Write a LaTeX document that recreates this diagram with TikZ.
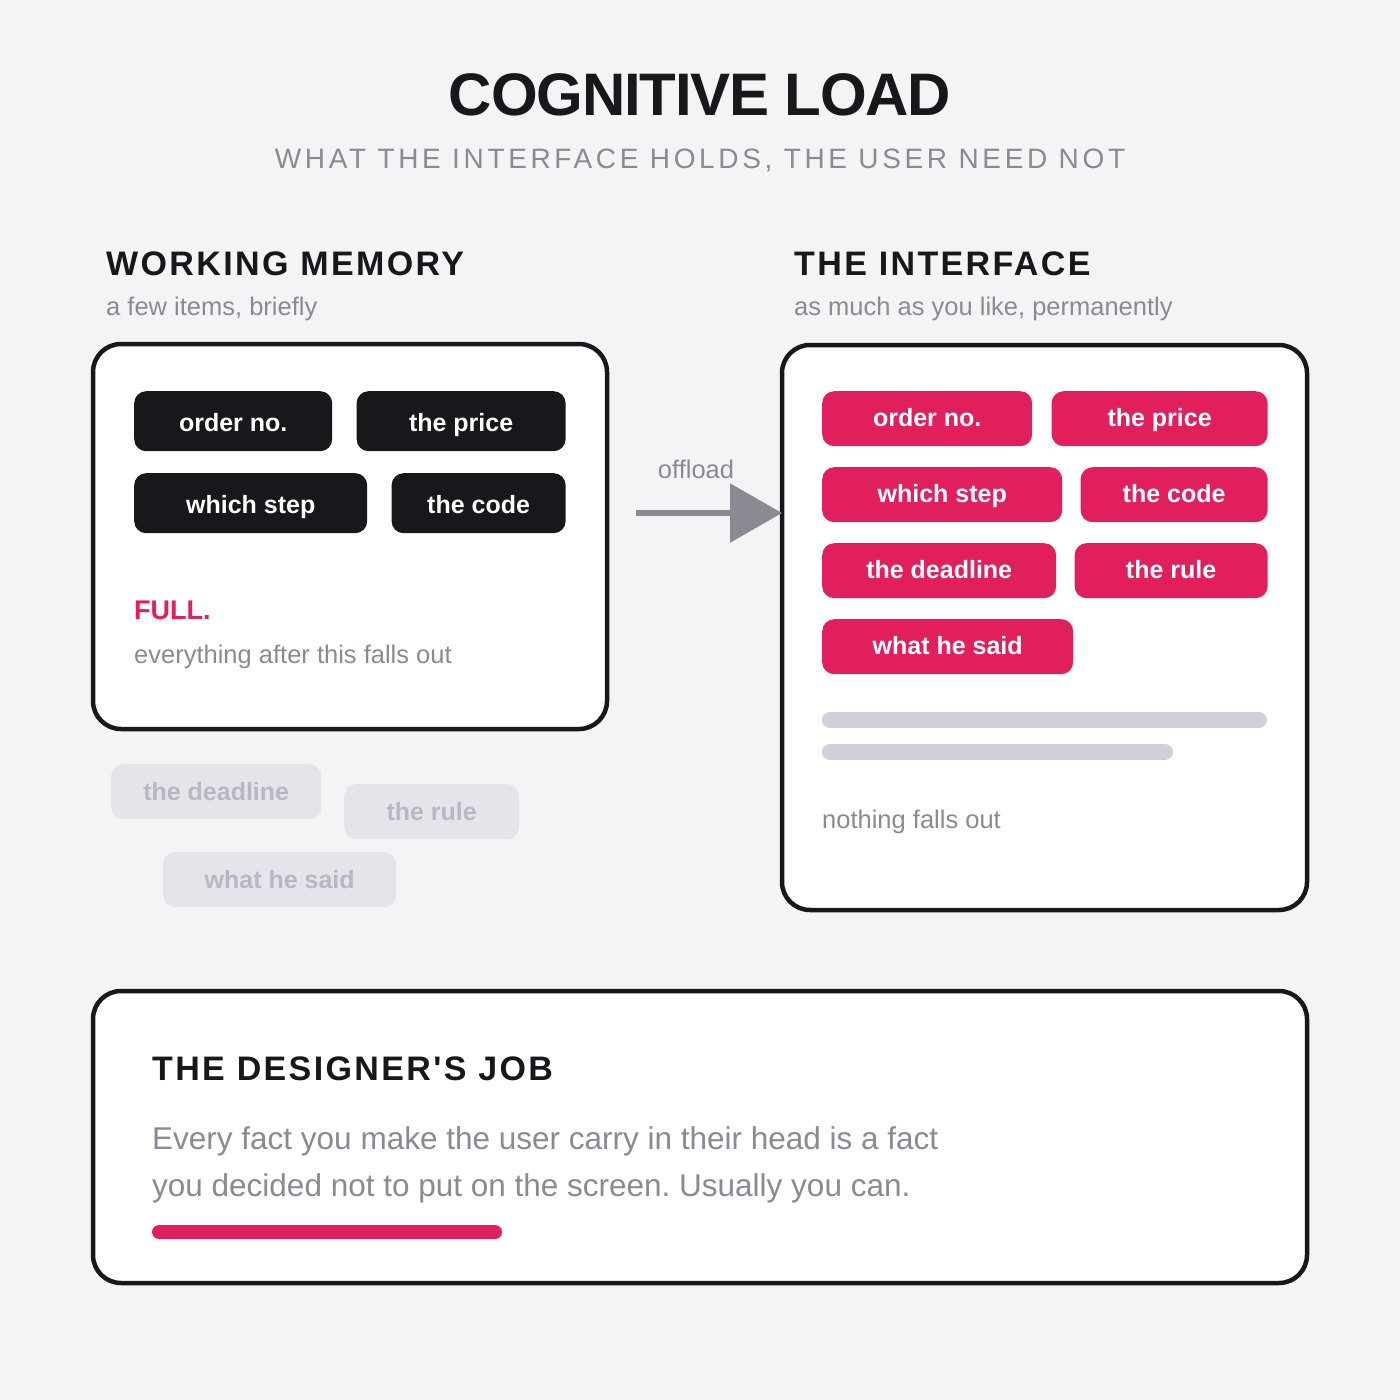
\documentclass[tikz,border=0pt]{standalone}
\usepackage{fontspec}
\setmainfont{Liberation Sans}
\newfontfamily\titlefont[LetterSpace=-2]{Liberation Sans}
\newfontfamily\kickerfont[LetterSpace=13]{Liberation Sans}
\newfontfamily\headfont[LetterSpace=7]{Liberation Sans}
\usepackage{xcolor}
\usepackage{tikz}
\usetikzlibrary{arrows.meta,positioning}
\frenchspacing

\definecolor{paper}{HTML}{F4F4F6}
\definecolor{ink}{HTML}{17181C}
\definecolor{hot}{HTML}{E01F5C}
\definecolor{muted}{HTML}{8A8A94}
\definecolor{lostfill}{HTML}{E4E4EA}
\definecolor{losttext}{HTML}{B8B8C4}
\definecolor{barfill}{HTML}{D0D0DA}
\definecolor{arrowgray}{HTML}{8A8A92}

\newcommand{\chipfont}{\fontsize{25}{30}\selectfont\bfseries}
\newcommand{\notefont}{\fontsize{25.5}{30}\selectfont}
\newcommand{\headsize}{\headfont\fontsize{34}{40}\selectfont\bfseries}

\begin{document}
\begin{tikzpicture}[
    x=1pt, y=-1pt,
    panel/.style={draw=ink, line width=4.5pt, fill=white, rounded corners=28pt, inner sep=0pt, outer sep=0pt},
    chip/.style={rounded corners=12pt, inner sep=0pt, text=white, font=\chipfont, text depth=3pt, anchor=north west},
    memchip/.style={chip, fill=ink, minimum height=60pt, text height=23pt},
    ifacechip/.style={chip, fill=hot, minimum height=55pt, text height=19pt},
    lostchip/.style={chip, fill=lostfill, text=losttext, minimum height=55pt, text height=20pt},
    heading/.style={anchor=base west, inner sep=0pt, text=ink, font=\headsize},
    note/.style={anchor=base west, inner sep=0pt, text=muted, font=\notefont},
    bar/.style={line width=16pt, line cap=round, draw=barfill},
    offarrow/.style={draw=arrowgray, line width=6pt, -{Triangle[length=52pt, width=58pt]}}
  ]
    \fill[paper] (0,0) rectangle (1400,1400);
    \useasboundingbox (0,0) rectangle (1400,1400);

    % title
    \node[anchor=base, inner sep=0pt, text=ink, font=\titlefont\fontsize{60}{72}\selectfont\bfseries] (title) at (700,115) {COGNITIVE LOAD};
    \node[anchor=base, inner sep=0pt, text=muted, font=\kickerfont\fontsize{28}{34}\selectfont] (subtitle) at (700,168) {WHAT THE INTERFACE HOLDS, THE USER NEED NOT};

    % working memory
    \node[heading] (wmhead) at (106,275) {WORKING MEMORY};
    \node[note] (wmsub) at (106,315) {a few items, briefly};
    \node[panel, minimum width=514pt, minimum height=385pt] (wm) at (350,536.5) {};
    \node[memchip, minimum width=198pt] (m1) at (134,391) {order no.};
    \node[memchip, minimum width=209pt, right=24pt of m1] (m2) {the price};
    \node[memchip, minimum width=233pt] (m3) at (134,473) {which step};
    \node[memchip, minimum width=174pt, right=24pt of m3] (m4) {the code};
    \node[anchor=base west, inner sep=0pt, text=hot, font=\fontsize{27}{32}\selectfont\bfseries] (full) at (134,619) {FULL.};
    \node[note] (fallsout) at (134,663) {everything after this falls out};

    % what fell out
    \node[lostchip, minimum width=210pt] (l1) at (111,764) {the deadline};
    \node[lostchip, minimum width=175pt] (l2) at (344,784) {the rule};
    \node[lostchip, minimum width=233pt] (l3) at (163,852) {what he said};

    % the interface
    \node[heading] (ifhead) at (794,275) {THE INTERFACE};
    \node[note] (ifsub) at (794,315) {as much as you like, permanently};
    \node[panel, minimum width=525pt, minimum height=565pt] (iface) at (1044.5,627.5) {};
    \node[ifacechip, minimum width=210pt] (i1) at (822,391) {order no.};
    \node[ifacechip, minimum width=216pt, right=19pt of i1] (i2) {the price};
    \node[ifacechip, minimum width=240pt] (i3) at (822,467) {which step};
    \node[ifacechip, minimum width=187pt, right=18pt of i3] (i4) {the code};
    \node[ifacechip, minimum width=234pt] (i5) at (822,543) {the deadline};
    \node[ifacechip, minimum width=193pt, right=18pt of i5] (i6) {the rule};
    \node[ifacechip, minimum width=251pt] (i7) at (822,619) {what he said};
    \draw[bar] (830,720) -- (1259,720);
    \draw[bar] (830,752) -- (1165,752);
    \node[note] (nofall) at (822,828) {nothing falls out};

    % offload arrow
    \coordinate (src) at (636,513);
    \draw[offarrow] (src) -- (src -| iface.west);
    \node[anchor=base, inner sep=0pt, text=muted, font=\notefont] (offload) at (696,478) {offload};

    % designer's job
    \node[panel, minimum width=1214pt, minimum height=292pt] (job) at (700,1137) {};
    \node[heading] (jobhead) at (152,1080) {THE DESIGNER'S JOB};
    \node[anchor=base west, inner sep=0pt, text=muted, align=left, font=\fontsize{31.5}{47}\selectfont] (jobtext) at (152,1196) {Every fact you make the user carry in their head is a fact\\you decided not to put on the screen. Usually you can.};
    \draw[hot, line width=14pt, line cap=round] (159,1232) -- (495,1232);
  \end{tikzpicture}
\end{document}
